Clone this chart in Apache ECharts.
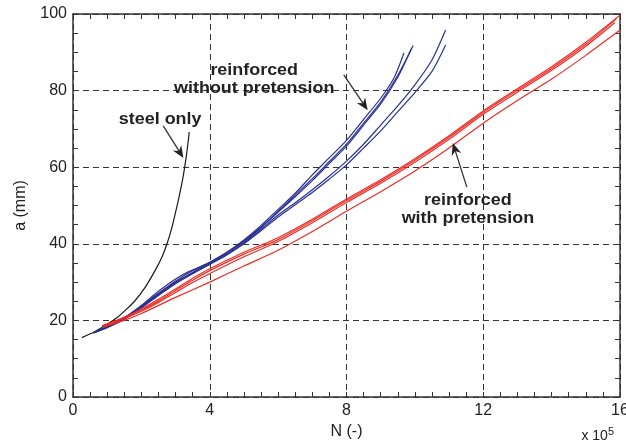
<!DOCTYPE html>
<html>
<head>
<meta charset="utf-8">
<script src="https://cdn.jsdelivr.net/npm/echarts@6/dist/echarts.min.js"></script>
<style>
  html, body { margin: 0; padding: 0; background: #fff; }
  #main { width: 626px; height: 444px; }
</style>
</head>
<body>
<div id="main"></div>
<script>
// crack length a (mm) against cycles N (x 10^5)
var steelOnly = [[0.26,15.5],[0.6,16.9],[1.0,19.0],[1.3,20.8],[1.6,23.2],[1.8,25.0],[2.1,28.5],[2.4,33.0],[2.6,36.5],[2.75,40.0],[2.9,44.5],[3.02,49.0],[3.12,53.0],[3.22,57.5],[3.3,62.0],[3.36,66.0],[3.4,69.2]];

var noPre1 = [[0.6,16.8],[1.0,18.4],[1.5,20.7],[2.0,23.8],[2.5,27.1],[3.0,30.3],[3.45,32.7],[4.0,35.2],[4.5,37.8],[5.0,41.0],[5.5,44.8],[6.0,49.0],[6.5,53.2],[7.0,58.0],[7.5,62.5],[8.0,67.0],[8.5,72.5],[9.0,78.0],[9.4,83.5],[9.68,89.8]];
var noPre2 = [[0.6,16.7],[1.0,18.2],[1.5,20.5],[2.0,23.6],[2.5,26.9],[3.0,30.0],[3.5,32.5],[4.0,35.0],[4.5,37.6],[5.0,40.8],[5.5,44.4],[6.0,48.5],[6.5,52.7],[7.0,57.0],[7.5,61.5],[8.0,66.0],[8.5,71.5],[9.0,77.0],[9.5,84.0],[9.95,91.8]];
var noPre3 = [[0.65,16.9],[1.0,18.3],[1.5,20.6],[2.0,23.9],[2.5,27.6],[3.0,30.8],[3.4,32.8],[4.0,35.1],[4.5,37.7],[5.0,40.6],[5.5,44.2],[6.0,48.3],[6.5,52.3],[7.0,56.5],[7.5,61.0],[8.0,65.5],[8.5,71.0],[9.0,76.5],[9.5,83.5],[9.9,91.0]];
var noPre4 = [[0.6,16.8],[1.0,18.2],[1.5,20.4],[2.0,23.4],[2.5,26.7],[3.0,29.8],[3.5,32.4],[4.0,34.8],[4.5,37.3],[5.0,40.3],[5.5,43.8],[6.0,47.5],[6.5,50.7],[7.0,54.1],[7.5,57.7],[8.0,61.6],[8.5,66.0],[9.0,71.0],[9.5,76.0],[10.0,81.5],[10.5,88.0],[10.9,95.8]];
var noPre5 = [[0.6,16.7],[1.0,18.1],[1.5,20.3],[2.0,23.3],[2.5,26.5],[3.0,29.6],[3.5,32.2],[4.0,34.6],[4.5,37.1],[5.0,40.0],[5.5,43.4],[6.0,47.0],[6.5,50.2],[7.0,53.4],[7.5,56.9],[8.0,60.6],[8.5,65.0],[9.0,69.5],[9.5,74.5],[10.0,79.5],[10.5,85.0],[10.9,91.9]];

var pre1 = [[0.85,18.6],[1.5,20.9],[2.0,23.0],[2.5,25.5],[3.0,28.2],[3.5,31.0],[4.0,33.5],[5.0,37.8],[6.0,41.6],[7.0,46.4],[8.0,51.7],[9.0,56.7],[10.0,62.2],[11.0,68.2],[12.0,74.7],[13.0,80.5],[14.0,86.2],[15.0,92.6],[16.0,99.7]];
var pre2 = [[0.85,18.5],[1.5,20.7],[2.0,22.7],[2.5,25.1],[3.0,27.8],[3.5,30.5],[4.0,33.0],[5.0,37.3],[6.0,41.1],[7.0,46.0],[8.0,51.3],[9.0,56.3],[10.0,61.8],[11.0,67.8],[12.0,74.3],[13.0,80.1],[14.0,85.8],[15.0,92.1],[15.9,98.8]];
var pre3 = [[0.9,18.4],[1.5,20.5],[2.0,22.4],[2.5,24.7],[3.0,27.3],[3.5,29.9],[4.0,32.2],[5.0,36.6],[6.0,40.6],[7.0,45.5],[8.0,50.8],[9.0,55.8],[10.0,61.3],[11.0,67.3],[12.0,73.8],[13.0,79.6],[14.0,85.3],[15.0,91.6],[15.85,97.8]];
var pre4 = [[0.9,18.3],[1.5,20.0],[2.0,21.8],[3.0,26.0],[4.0,30.0],[5.0,34.2],[6.0,38.3],[7.0,43.2],[8.0,48.5],[9.0,53.6],[10.0,59.0],[11.0,65.0],[12.0,71.5],[13.0,77.4],[14.0,83.0],[15.0,89.2],[16.0,95.8]];

// annotation labels and arrows, in data coordinates [N, a]
var labels = [
  { text: 'steel only', at: [2.55, 72.5] },
  { text: 'reinforced\nwithout pretension', at: [5.3, 83] },
  { text: 'reinforced\nwith pretension', at: [11.55, 49] }
];
var arrows = [
  { from: [2.64, 70.8], to: [3.23, 62.4] },
  { from: [7.92, 84.1], to: [8.62, 74.9] },
  { from: [11.52, 54.8], to: [11.11, 66.3] }
];

var chart = echarts.init(document.getElementById('main'));

var FONT = '"Liberation Sans", Arial, Helvetica, sans-serif';
var axisColor = '#333';

function line(data, color) {
  return {
    type: 'line', data: data, showSymbol: false, symbol: 'none', smooth: 0.25,
    lineStyle: { color: color, width: 1.2 }, animation: false, silent: true
  };
}
var BLUE = '#2a3192', RED = '#ee2b24', BLACK = '#1a1a1a';

var option = {
  animation: false,
  grid: { left: 73, right: 6, top: 14, bottom: 47, outerBoundsMode: 'none' },
  xAxis: [{
    type: 'value', min: 0, max: 16, interval: 4,
    name: 'N (-)', nameLocation: 'middle', nameGap: 22,
    nameTextStyle: { fontFamily: FONT, fontSize: 16, color: '#222' },
    axisLine: { onZero: false, lineStyle: { color: axisColor, width: 1.5 } },
    axisTick: { inside: true, length: 5, lineStyle: { color: axisColor } },
    minorTick: { show: true, splitNumber: 8, length: 5, lineStyle: { color: axisColor } },
    axisLabel: { fontFamily: FONT, fontSize: 16, color: '#222', margin: 6 },
    splitLine: { show: true, lineStyle: { color: '#333', type: [6, 4], width: 1 } }
  }, {
    type: 'value', min: 0, max: 16, interval: 4, position: 'top',
    axisLine: { onZero: false, lineStyle: { color: axisColor, width: 1.5 } },
    axisTick: { inside: true, length: 5, lineStyle: { color: axisColor } },
    minorTick: { show: true, splitNumber: 8, length: 5, lineStyle: { color: axisColor } },
    axisLabel: { show: false }, splitLine: { show: false }
  }],
  yAxis: [{
    type: 'value', min: 0, max: 100, interval: 20,
    name: 'a (mm)', nameLocation: 'middle', nameGap: 44, nameRotate: 90,
    nameTextStyle: { fontFamily: FONT, fontSize: 16, color: '#222' },
    axisLine: { show: true, onZero: false, lineStyle: { color: axisColor, width: 1.5 } },
    axisTick: { show: true, inside: true, length: 5, lineStyle: { color: axisColor } },
    minorTick: { show: true, splitNumber: 4, length: 5, lineStyle: { color: axisColor } },
    axisLabel: { fontFamily: FONT, fontSize: 16, color: '#222', margin: 6 },
    splitLine: { show: true, lineStyle: { color: '#333', type: [6, 4], width: 1 } }
  }, {
    type: 'value', min: 0, max: 100, interval: 20, position: 'right',
    axisLine: { show: true, onZero: false, lineStyle: { color: axisColor, width: 1.5 } },
    axisTick: { show: true, inside: true, length: 5, lineStyle: { color: axisColor } },
    minorTick: { show: true, splitNumber: 4, length: 5, lineStyle: { color: axisColor } },
    axisLabel: { show: false }, splitLine: { show: false }
  }],
  series: [
    line(steelOnly, BLACK),
    line(noPre1, BLUE), line(noPre2, BLUE), line(noPre3, BLUE), line(noPre4, BLUE), line(noPre5, BLUE),
    line(pre1, RED), line(pre2, RED), line(pre3, RED), line(pre4, RED)
  ]
};
chart.setOption(option);

// annotations placed from data coordinates
var g = [];
labels.forEach(function (l) {
  var p = chart.convertToPixel({ gridIndex: 0 }, l.at);
  g.push({
    type: 'text', x: p[0], y: p[1], scaleX: 1.12, z: 10,
    style: { text: l.text, font: 'bold 16px ' + FONT, fill: '#222', align: 'center', verticalAlign: 'middle', lineHeight: 18 }
  });
});
arrows.forEach(function (a) {
  var p0 = chart.convertToPixel({ gridIndex: 0 }, a.from);
  var p1 = chart.convertToPixel({ gridIndex: 0 }, a.to);
  var dx = p1[0] - p0[0], dy = p1[1] - p0[1];
  var len = Math.sqrt(dx * dx + dy * dy), ux = dx / len, uy = dy / len;
  var hl = 12, hw = 5;
  var bx = p1[0] - ux * hl, by = p1[1] - uy * hl;
  var mx = p1[0] - ux * hl * 0.7, my = p1[1] - uy * hl * 0.7;
  g.push({ type: 'line', z: 10, shape: { x1: p0[0], y1: p0[1], x2: mx, y2: my }, style: { stroke: '#333', lineWidth: 1.3 } });
  g.push({ type: 'polygon', z: 10, shape: { points: [[p1[0], p1[1]], [bx - uy * hw, by + ux * hw], [mx, my], [bx + uy * hw, by - ux * hw]] }, style: { fill: '#222' } });
});
g.push({
  type: 'text', right: 12, bottom: 1, z: 10,
  style: { text: 'x 10{s|5}', font: '14px ' + FONT, fill: '#222', rich: { s: { fontSize: 11, fontFamily: FONT, verticalAlign: 'top', padding: [0, 0, 8, 0], fill: '#222' } } }
});
chart.setOption({ graphic: g });
</script>
</body>
</html>
